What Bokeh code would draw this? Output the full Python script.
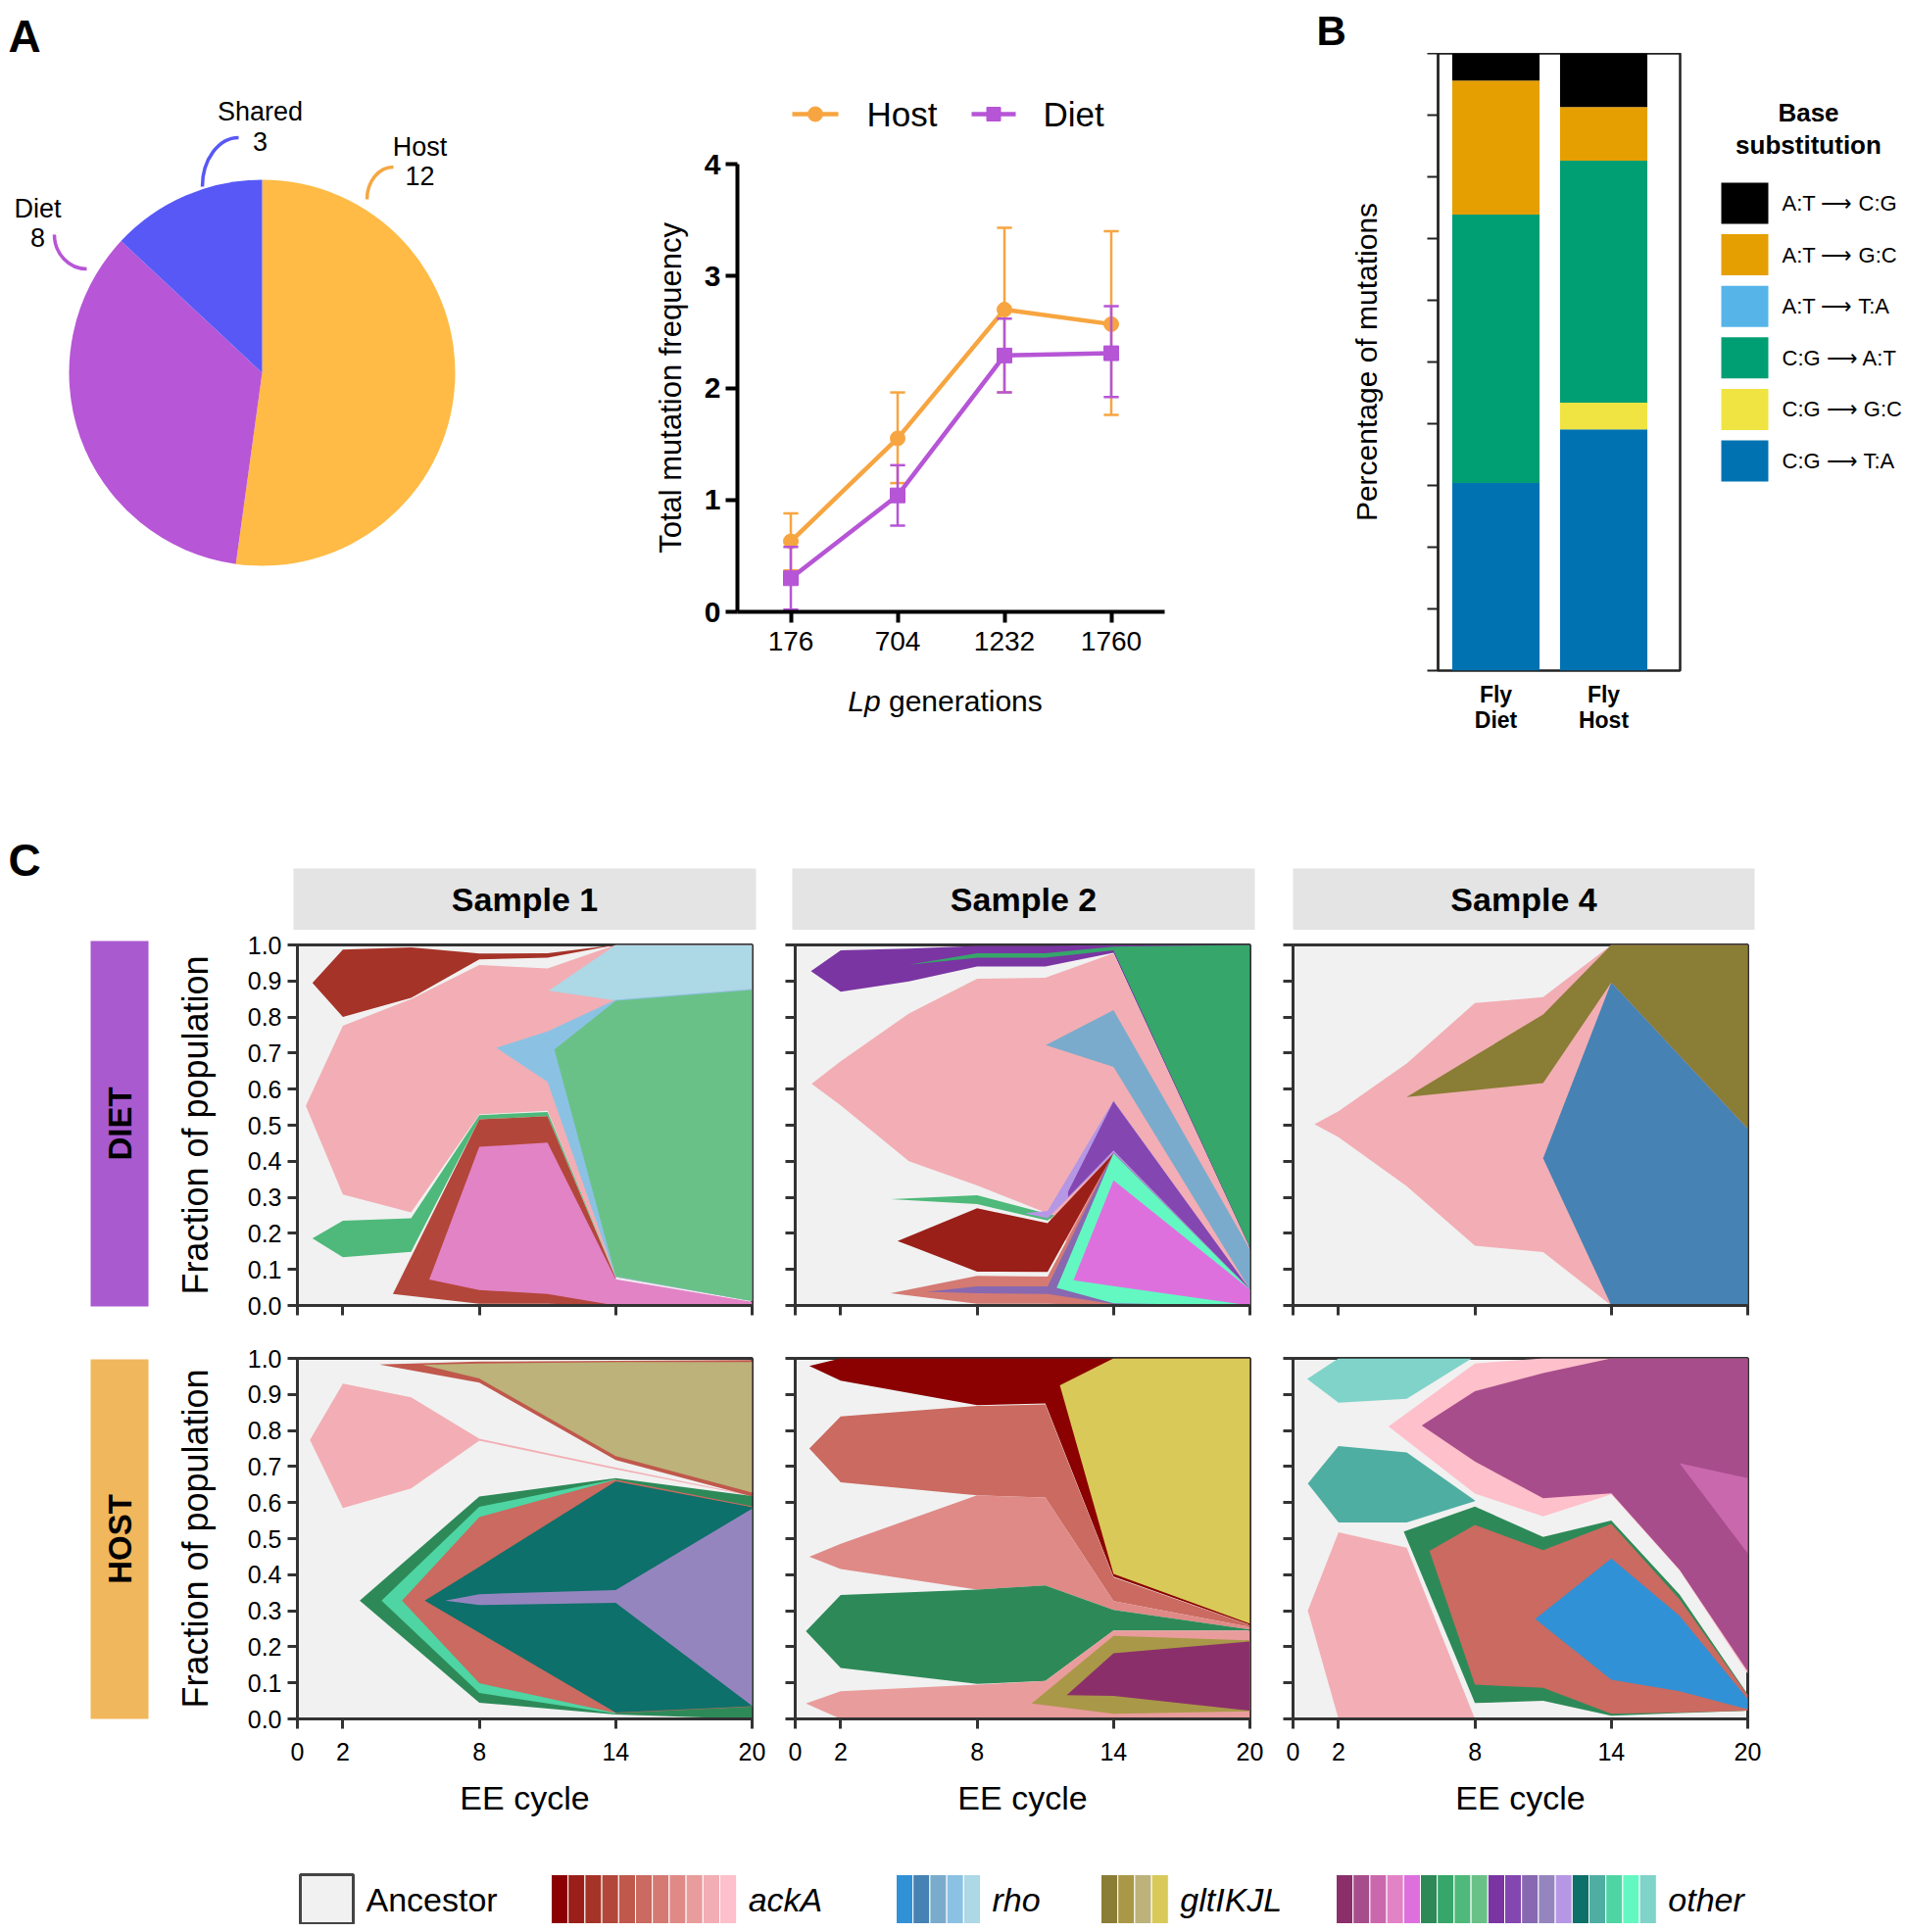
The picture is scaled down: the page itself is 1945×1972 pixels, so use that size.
import math
from bokeh.plotting import figure
from bokeh.layouts import row, column
from bokeh.models import Range1d, FixedTicker, NumeralTickFormatter, Spacer, ColumnDataSource
from bokeh.core.properties import value
from bokeh.embed import file_html
from bokeh.resources import INLINE

FONT = "Liberation Sans"

# ---------------- Panel A: pie ----------------
PIE_LABELS = ["Host", "Diet", "Shared"]
PIE_COUNTS = [12, 8, 3]

# ---------------- Panel A: line chart ----------------
GENERATIONS = ["176", "704", "1232", "1760"]
HOST_MEAN = [0.63, 1.55, 2.70, 2.57]
HOST_LOW = [0.37, 1.15, 1.96, 1.76]
HOST_HIGH = [0.88, 1.96, 3.43, 3.40]
DIET_MEAN = [0.30, 1.04, 2.29, 2.31]
DIET_LOW = [0.02, 0.77, 1.96, 1.92]
DIET_HIGH = [0.58, 1.31, 2.62, 2.73]
FREQ_TICKS = [0, 1, 2, 3, 4]

# ---------------- Panel B: stacked bars ----------------
BAR_GROUPS = ["Fly\nDiet", "Fly\nHost"]
SUBST = ["C:G \u27f6 T:A", "C:G \u27f6 G:C", "C:G \u27f6 A:T",
         "A:T \u27f6 T:A", "A:T \u27f6 G:C", "A:T \u27f6 C:G"]
DIET_PCT = [30.4, 0.0, 43.5, 0.0, 21.7, 4.4]
HOST_PCT = [39.1, 4.3, 39.2, 0.0, 8.7, 8.7]
PCT_TICKS = [0, 10, 20, 30, 40, 50, 60, 70, 80, 90, 100]

# ---------------- Panel C: Muller plots (EE cycle, upper, lower) ----------------
CYCLE_TICKS = [0, 2, 8, 14, 20]
FRACTION_TICKS = [0.0, 0.1, 0.2, 0.3, 0.4, 0.5, 0.6, 0.7, 0.8, 0.9, 1.0]
STRIP_LABELS = ["Sample 1", "Sample 2", "Sample 4"]
ROW_LABELS = ["DIET", "HOST"]

# Diet, sample 1
d1_top_red = ([0.66, 2, 5, 8, 11, 14], [0.895, 0.987, 0.993, 0.976, 0.977, 1.0], [0.895, 0.80, 0.853, 0.96, 0.965, 1.0])
d1_pink = ([0.37, 2, 5, 8, 11, 14, 20], [0.554, 0.776, 0.85, 0.944, 0.935, 1.0, 1.0], [0.554, 0.308, 0.258, 0.53, 0.54, 0.078, 0.012])
d1_green = ([0.66, 2, 5, 8, 11, 14], [0.186, 0.235, 0.242, 0.528, 0.537, 0.08], [0.186, 0.134, 0.149, 0.516, 0.525, 0.08])
d1_red = ([4.2, 8, 11, 14], [0.032, 0.516, 0.525, 0.077], [0.032, 0.005, 0.005, 0.0])
d1_magenta = ([5.8, 8, 11, 14, 20], [0.072, 0.44, 0.452, 0.073, 0.01], [0.072, 0.043, 0.032, 0.0, 0.0])
d1_lightblue = ([11.05, 14, 20], [0.873, 1.0, 1.0], [0.873, 0.846, 0.878])
d1_blue = ([8.75, 11, 14, 20], [0.715, 0.76, 0.848, 0.878], [0.715, 0.62, 0.079, 0.012])
d1_mint = ([11.3, 14, 20], [0.71, 0.845, 0.875], [0.71, 0.081, 0.012])

# Diet, sample 2
d2_purple = ([0.69, 2, 5, 8, 11, 14, 20], [0.927, 0.985, 0.99, 0.997, 0.997, 1.0, 1.0], [0.927, 0.87, 0.899, 0.94, 0.94, 0.978, 0.158])
d2_green = ([5, 8, 11, 14, 20], [0.945, 0.977, 0.977, 0.995, 1.0], [0.945, 0.965, 0.965, 0.985, 0.161])
d2_pink = ([0.72, 2, 5, 8, 11, 14, 20], [0.615, 0.677, 0.81, 0.906, 0.909, 0.977, 0.158], [0.615, 0.555, 0.40, 0.333, 0.258, 0.0, 0.0])
d2_blue = ([11.02, 14, 20], [0.722, 0.819, 0.155], [0.722, 0.662, 0.044])
d2_gthin = ([4.2, 8, 11.1, 11.4], [0.295, 0.306, 0.254, 0.25], [0.295, 0.281, 0.236, 0.25])
d2_lavender = ([10.16, 11.1, 14, 20], [0.257, 0.262, 0.568, 0.044], [0.255, 0.242, 0.422, 0.044])
d2_salmon = ([4.2, 8, 11.1, 14, 20], [0.034, 0.082, 0.08, 0.424, 0.044], [0.034, 0.005, 0.005, 0.0, 0.0])
d2_pband = ([5.8, 8, 11.1, 14, 20], [0.038, 0.053, 0.053, 0.424, 0.044], [0.038, 0.034, 0.032, 0.004, 0.0])
d2_red = ([4.5, 8, 11.1, 14], [0.179, 0.27, 0.228, 0.422], [0.179, 0.094, 0.093, 0.422])
d2_dpurple = ([12.0, 14, 20], [0.315, 0.566, 0.044], [0.30, 0.43, 0.044])
d2_mint = ([11.5, 14, 20], [0.049, 0.422, 0.044], [0.049, 0.006, 0.0])
d2_magenta = ([12.24, 14, 20], [0.07, 0.347, 0.044], [0.07, 0.054, 0.0])

# Diet, sample 4
d4_pink = ([0.94, 2, 5, 8, 11, 14, 20], [0.503, 0.539, 0.671, 0.839, 0.855, 1.0, 1.0], [0.503, 0.467, 0.331, 0.166, 0.148, 0.0, 0.0])
d4_olive = ([5, 8, 11, 14, 20], [0.578, 0.693, 0.807, 1.0, 1.0], [0.578, 0.597, 0.617, 0.896, 0.49])
d4_blue = ([11, 14, 20], [0.408, 0.896, 0.49], [0.408, 0.0, 0.0])

# Host, sample 1
h1_pink = ([0.55, 2, 5, 8, 14, 20], [0.774, 0.93, 0.892, 0.777, 0.697, 0.62], [0.774, 0.585, 0.639, 0.772, 0.692, 0.618])
h1_red = ([3.6, 8, 14, 20], [0.983, 0.991, 0.993, 0.995], [0.983, 0.933, 0.718, 0.617])
h1_olive = ([5.5, 8, 14, 20], [0.982, 0.986, 0.99, 0.99], [0.982, 0.944, 0.729, 0.628])
h1_dgreen = ([2.74, 8, 14, 20], [0.328, 0.617, 0.668, 0.618], [0.328, 0.045, 0.012, 0.0])
h1_lgreen = ([3.7, 8, 14], [0.328, 0.588, 0.665], [0.328, 0.072, 0.014])
h1_salmon = ([4.6, 8, 14, 20], [0.328, 0.56, 0.664, 0.59], [0.328, 0.099, 0.016, 0.034])
h1_teal = ([5.6, 8, 14, 20], [0.328, 0.422, 0.659, 0.587], [0.328, 0.239, 0.018, 0.035])
h1_lilac = ([6.5, 8, 14, 20], [0.328, 0.346, 0.357, 0.583], [0.328, 0.316, 0.322, 0.036])

# Host, sample 2
h2_dred = ([0.62, 2, 8, 11, 14, 20], [0.979, 1.0, 1.0, 1.0, 1.0, 1.0], [0.979, 0.938, 0.87, 0.875, 0.395, 0.261])
h2_yellow = ([11.64, 14, 20], [0.925, 1.0, 1.0], [0.925, 0.402, 0.264])
h2_salmon = ([0.62, 2, 8, 11, 14, 20], [0.75, 0.839, 0.868, 0.872, 0.393, 0.26], [0.75, 0.656, 0.62, 0.614, 0.327, 0.255])
h2_lsalmon = ([0.62, 2, 8, 11, 14, 20], [0.45, 0.486, 0.62, 0.614, 0.327, 0.255], [0.45, 0.416, 0.359, 0.37, 0.302, 0.248])
h2_green = ([0.47, 2, 8, 11, 14, 20], [0.243, 0.344, 0.359, 0.37, 0.302, 0.248], [0.243, 0.141, 0.097, 0.105, 0.245, 0.245])
h2_bpink = ([0.47, 2, 8, 11, 14, 20], [0.043, 0.077, 0.095, 0.105, 0.245, 0.245], [0.043, 0.0, 0.0, 0.0, 0.0, 0.0])
h2_olive = ([10.4, 14, 20], [0.043, 0.23, 0.218], [0.043, 0.014, 0.021])
h2_purple = ([11.94, 14, 20], [0.066, 0.182, 0.215], [0.066, 0.064, 0.023])

# Host, sample 4
h4_tealtop = ([0.62, 2, 5, 7.86], [0.943, 1.0, 1.0, 1.0], [0.943, 0.877, 0.888, 1.0])
h4_teal = ([0.65, 2, 5, 8], [0.653, 0.757, 0.739, 0.606], [0.653, 0.545, 0.545, 0.604])
h4_pink = ([0.65, 2, 5, 8], [0.30, 0.518, 0.475, 0.0], [0.30, 0.0, 0.0, 0.0])
h4_lpink = ([4.2, 8, 11, 14, 17, 20], [0.811, 0.986, 1.0, 1.0, 1.0, 1.0], [0.811, 0.625, 0.562, 0.623, 0.412, 0.125])
h4_magenta = ([5.66, 8, 11, 14, 17, 20], [0.814, 0.909, 0.959, 1.0, 1.0, 1.0], [0.814, 0.714, 0.612, 0.626, 0.414, 0.132])
h4_orchid = ([17, 20], [0.709, 0.668], [0.709, 0.459])
h4_dgreen = ([4.87, 8, 11, 14, 17, 20], [0.52, 0.589, 0.505, 0.55, 0.345, 0.068], [0.52, 0.044, 0.05, 0.009, 0.016, 0.023])
h4_salmon = ([6.0, 8, 11, 14, 17, 20], [0.466, 0.538, 0.468, 0.541, 0.332, 0.066], [0.466, 0.095, 0.086, 0.014, 0.018, 0.023])
h4_blue = ([10.65, 14, 17, 20], [0.277, 0.445, 0.286, 0.055], [0.277, 0.109, 0.077, 0.027])

LEGEND_GROUPS = ["ackA", "rho", "gltIKJL", "other"]

# ---------------- styles ----------------
PIE_COLORS = ["#FFBB45", "#B756D6", "#5858F6"]
LEADER_COLORS = ["#F5A742", "#B756D6", "#5858F6"]
HOST_C = "#F7A540"
DIET_C = "#B655D6"
SUBST_COLORS = ["#0072B2", "#F0E442", "#009E73", "#56B4E9", "#E69F00", "#000000"]
ANCESTOR_C = "#F1F1F1"
ACKA = ["#8B0000", "#9A1F18", "#A63328", "#B3463A", "#C0584C", "#CA6A60",
        "#D47A73", "#DF8A87", "#E99C9C", "#F2AEB4", "#FEC0CB"]
RHO = ["#3191D6", "#4682B4", "#7BABCC", "#8BC2E4", "#ADD8E6"]
GLT = ["#8A7D35", "#A99848", "#BCB27A", "#D9C959"]
OTHER = ["#8B2F6B", "#A84D8C", "#CA68AE", "#E283C6", "#DE70DE", "#2D8A58", "#36A66A",
         "#4EB97A", "#6AC187", "#7A35A3", "#8446B0", "#8868B0", "#9585BF", "#B697E6",
         "#0D706A", "#4FAEA2", "#4ED5A3", "#63F8C2", "#80D3C8"]

D1 = [(d1_top_red, ACKA[2]), (d1_pink, ACKA[9]), (d1_green, OTHER[7]), (d1_red, ACKA[3]),
      (d1_magenta, OTHER[3]), (d1_lightblue, RHO[4]), (d1_blue, RHO[3]), (d1_mint, OTHER[8])]
D2 = [(d2_purple, OTHER[9]), (d2_green, OTHER[6]), (d2_pink, ACKA[9]), (d2_blue, RHO[2]),
      (d2_gthin, OTHER[7]), (d2_lavender, OTHER[13]), (d2_salmon, ACKA[6]), (d2_pband, OTHER[11]),
      (d2_red, ACKA[1]), (d2_dpurple, OTHER[10]), (d2_mint, OTHER[17]), (d2_magenta, OTHER[4])]
D4 = [(d4_pink, ACKA[9]), (d4_olive, GLT[0]), (d4_blue, RHO[1])]
H1 = [(h1_pink, ACKA[9]), (h1_red, ACKA[4]), (h1_olive, GLT[2]), (h1_dgreen, OTHER[5]),
      (h1_lgreen, OTHER[16]), (h1_salmon, ACKA[5]), (h1_teal, OTHER[14]), (h1_lilac, OTHER[12])]
H2 = [(h2_dred, ACKA[0]), (h2_yellow, GLT[3]), (h2_salmon, ACKA[5]), (h2_lsalmon, ACKA[7]),
      (h2_green, OTHER[5]), (h2_bpink, ACKA[8]), (h2_olive, GLT[1]), (h2_purple, OTHER[0])]
H4 = [(h4_tealtop, OTHER[18]), (h4_teal, OTHER[15]), (h4_pink, ACKA[9]), (h4_lpink, ACKA[10]),
      (h4_magenta, OTHER[1]), (h4_orchid, OTHER[2]), (h4_dgreen, OTHER[5]), (h4_salmon, ACKA[5]),
      (h4_blue, RHO[0])]


def canvas(w, h):
    p = figure(frame_width=w, frame_height=h, x_range=Range1d(0, w), y_range=Range1d(0, h),
               toolbar_location=None, output_backend="svg", title=None,
               x_axis_location=None, y_axis_location=None, min_border=0, frame_align=False)
    p.outline_line_color = None
    p.grid.visible = False
    return p


def txt(p, x, y, s, size, align="center", style="normal", angle=0.0, color="black"):
    p.text(x=[x], y=[y], text=[s], text_font=value(FONT), text_font_size=f"{size}px",
           text_align=align, text_baseline="middle", text_font_style=style,
           angle=angle, text_color=color)


def style_axis(ax, color="black", width=3, tick_out=10, label_size=25, bold=False, standoff=5):
    ax.axis_line_color = color
    ax.axis_line_width = width
    ax.major_tick_line_color = color
    ax.major_tick_line_width = width
    ax.major_tick_out = tick_out
    ax.major_tick_in = 0
    ax.minor_tick_line_color = None
    ax.major_label_text_font = FONT
    ax.major_label_text_font_size = f"{label_size}px"
    ax.major_label_text_font_style = "bold" if bold else "normal"
    ax.major_label_text_color = "black"
    ax.major_label_standoff = standoff
    ax.axis_label_text_font = FONT
    ax.axis_label_text_font_style = "normal"
    ax.axis_label_text_color = "black"


def hide_labels(ax, ticks):
    ax.major_label_text_font_size = "10px"
    ax.major_label_standoff = 0
    ax.major_label_overrides = {t: "" for t in ticks}


# ================= TOP BAND =================
# ---- pie ----
pie = canvas(552, 842)
total = sum(PIE_COUNTS)
starts, ends, cum = [], [], 0
for c in PIE_COUNTS:
    starts.append(math.pi / 2 - 2 * math.pi * cum / total)
    cum += c
    ends.append(math.pi / 2 - 2 * math.pi * cum / total)
pie.wedge(x=259, y=470, radius=197, start_angle=starts, end_angle=ends, direction="clock",
          fill_color=PIE_COLORS, line_color=None)
label_pos = [(420, 701, 671), (30, 638, 608), (257, 737, 706)]
for (lx, ly1, ly2), name, cnt in zip(label_pos, PIE_LABELS, PIE_COUNTS):
    txt(pie, lx, ly1, name, 27)
    txt(pie, lx, ly2, str(cnt), 27)
pie.bezier(x0=[393, 47, 235], y0=[680, 611, 710], x1=[366, 80, 198], y1=[647, 576, 660],
           cx0=[378, 47, 214.6], cy0=[680, 591.7, 710], cx1=[366, 61.8, 198], cy1=[665.2, 576, 687.6],
           line_color=LEADER_COLORS, line_width=3.5)
txt(pie, 0, 814, "A", 46, align="left", style="bold")

# ---- line chart legend ----
leg = canvas(770, 132)
leg.line([248, 295], [24, 24], line_color=HOST_C, line_width=4.5)
leg.scatter([271.5], [24], marker="circle", size=15, fill_color=HOST_C, line_color=HOST_C)
txt(leg, 324, 24, "Host", 35, align="left")
leg.line([431, 476], [24, 24], line_color=DIET_C, line_width=4.5)
leg.scatter([453.5], [24], marker="square", size=14, fill_color=DIET_C, line_color=DIET_C)
txt(leg, 504, 24, "Diet", 35, align="left")

# ---- line chart ----
lp = figure(frame_width=436, frame_height=457, x_range=Range1d(-0.5, 3.5), y_range=Range1d(0, 4),
            min_border_left=192, min_border_right=142, min_border_top=27, min_border_bottom=66,
            toolbar_location=None, output_backend="svg", title=None, frame_align=False)
lp.outline_line_color = None
lp.grid.visible = False
xs = list(range(len(GENERATIONS)))


def draw_series(p, mean, lo, hi, color, marker, size):
    p.segment(x0=xs, y0=lo, x1=xs, y1=hi, line_color=color, line_width=2.5)
    p.segment(x0=[x - 0.07 for x in xs], y0=hi, x1=[x + 0.07 for x in xs], y1=hi, line_color=color, line_width=2.5)
    p.segment(x0=[x - 0.07 for x in xs], y0=lo, x1=[x + 0.07 for x in xs], y1=lo, line_color=color, line_width=2.5)
    p.line(xs, mean, line_color=color, line_width=4.5)
    p.scatter(xs, mean, marker=marker, size=size, fill_color=color, line_color=color)


draw_series(lp, HOST_MEAN, HOST_LOW, HOST_HIGH, HOST_C, "circle", 15)
draw_series(lp, DIET_MEAN, DIET_LOW, DIET_HIGH, DIET_C, "square", 15)
style_axis(lp.xaxis[0], width=4, tick_out=11, label_size=28, standoff=9)
style_axis(lp.yaxis[0], width=4, tick_out=12, label_size=30, bold=True, standoff=5)
lp.xaxis.ticker = FixedTicker(ticks=xs)
lp.xaxis.major_label_overrides = {x: g for x, g in zip(xs, GENERATIONS)}
lp.yaxis.ticker = FixedTicker(ticks=FREQ_TICKS)
lp.yaxis.axis_label = "Total mutation frequency"
lp.yaxis.axis_label_text_font_size = "31px"
lp.yaxis.axis_label_standoff = 14

xl = canvas(770, 160)
txt(xl, 304.8, 135, "Lp", 30, align="left", style="italic")
txt(xl, 346.5, 135, "generations", 30, align="left")

line_col = column(leg, lp, xl)

# ---- stacked bars ----
bcan = canvas(410, 46)
txt(bcan, 13, 23, "B", 42, align="left", style="bold")

bars = figure(frame_width=247, frame_height=630, x_range=Range1d(0.4636, 2.709), y_range=Range1d(0, 100),
              min_border_left=137, min_border_right=26, min_border_top=0, min_border_bottom=166,
              toolbar_location=None, output_backend="svg", title=None, frame_align=False)
bars.grid.visible = False
bars.outline_line_color = "#222222"
bars.outline_line_width = 2.5
src = {"x": [1, 2]}
for s, dv, hv in zip(SUBST, DIET_PCT, HOST_PCT):
    src[s] = [dv, hv]
bars.vbar_stack(SUBST, x="x", width=0.81, fill_color=SUBST_COLORS, line_color=None,
                source=ColumnDataSource(src))
style_axis(bars.yaxis[0], color="#222222", width=2, tick_out=11)
hide_labels(bars.yaxis[0], PCT_TICKS)
bars.yaxis.ticker = FixedTicker(ticks=PCT_TICKS)
bars.yaxis.axis_label = "Percentage of mutations"
bars.yaxis.axis_label_text_font_size = "30px"
bars.yaxis.axis_label_standoff = 46
style_axis(bars.xaxis[0], label_size=23, bold=True, standoff=1)
bars.xaxis.major_label_text_line_height = 1.0
bars.xaxis.axis_line_color = None
bars.xaxis.major_tick_line_color = None
bars.xaxis.ticker = FixedTicker(ticks=[1, 2])
bars.xaxis.major_label_overrides = {1: BAR_GROUPS[0], 2: BAR_GROUPS[1]}
bar_col = column(bcan, bars)

bleg = canvas(204, 842)
txt(bleg, 105, 736, "Base", 26, style="bold")
txt(bleg, 105, 703, "substitution", 26, style="bold")
for i, (s, c) in enumerate(zip(SUBST[::-1], SUBST_COLORS[::-1])):
    yy = 643 - 52.6 * i
    bleg.quad(left=[16], right=[64], bottom=[yy - 21], top=[yy + 21], fill_color=c, line_color=None)
    txt(bleg, 78, yy, s, 22, align="left")

top_band = row(pie, line_col, bar_col, bleg)

# ================= BOTTOM BAND =================
strip = canvas(1929, 99)
txt(strip, 0, 72, "C", 46, align="left", style="bold")
for (l, r), lab in zip([(291, 763), (800, 1272), (1311, 1782)], STRIP_LABELS):
    strip.quad(left=[l], right=[r], bottom=[0], top=[63], fill_color="#E4E4E4", line_color=None)
    txt(strip, (l + r) / 2, 31.5, lab, 34, style="bold")


def muller(clones, left, right, top, bottom, ylabels, xlabels):
    p = figure(frame_width=464, frame_height=368, x_range=Range1d(0, 20), y_range=Range1d(0, 1),
               min_border_left=left, min_border_right=right, min_border_top=top, min_border_bottom=bottom,
               toolbar_location=None, output_backend="svg", title=None, frame_align=False)
    p.background_fill_color = ANCESTOR_C
    p.outline_line_color = "#333333"
    p.outline_line_width = 3
    p.grid.visible = False
    for (t, hi, lo), c in clones:
        p.varea(x=t, y1=lo, y2=hi, fill_color=c)
    style_axis(p.xaxis[0], color="#333333", width=3, tick_out=10, label_size=25, standoff=14)
    style_axis(p.yaxis[0], color="#333333", width=3, tick_out=10, label_size=25, standoff=6)
    p.xaxis.ticker = FixedTicker(ticks=CYCLE_TICKS)
    p.yaxis.ticker = FixedTicker(ticks=FRACTION_TICKS)
    p.yaxis.formatter = NumeralTickFormatter(format="0.0")
    if not xlabels:
        hide_labels(p.xaxis[0], CYCLE_TICKS)
    if not ylabels:
        hide_labels(p.yaxis[0], FRACTION_TICKS)
    if ylabels:
        p.yaxis.axis_label = "Fraction of population"
        p.yaxis.axis_label_text_font_size = "36px"
        p.yaxis.axis_label_standoff = 30
    if xlabels:
        p.xaxis.axis_label = "EE cycle"
        p.xaxis.axis_label_text_font_size = "34px"
        p.xaxis.axis_label_standoff = 16
    return p


dleft = canvas(152, 411)
dleft.quad(left=[84], right=[143], bottom=[27], top=[400], fill_color="#A95ACF", line_color=None)
txt(dleft, 113.5, 213.5, ROW_LABELS[0], 33, style="bold", angle=math.pi / 2)
diet_row = row(dleft,
               muller(D1, 143, 23, 15, 28, True, False),
               muller(D2, 21, 25, 15, 28, False, False),
               muller(D4, 19, 17, 15, 28, False, False),
               Spacer(width=137, height=411))

hleft = canvas(152, 515)
hleft.quad(left=[84], right=[143], bottom=[121], top=[488], fill_color="#F1B75C", line_color=None)
txt(hleft, 113.5, 304.5, ROW_LABELS[1], 33, style="bold", angle=math.pi / 2)
host_row = row(hleft,
               muller(H1, 143, 23, 26, 121, True, True),
               muller(H2, 21, 25, 26, 121, False, True),
               muller(H4, 19, 17, 26, 121, False, True),
               Spacer(width=137, height=515))

# ---- bottom legend ----
lg = canvas(1929, 89)
lg.quad(left=[298], right=[352], bottom=[1], top=[51], fill_color=ANCESTOR_C, line_color="#444444", line_width=3)
txt(lg, 365, 26, "Ancestor", 34, align="left")
SW = 17.2
for pal, x0, name in zip([ACKA, RHO, GLT, OTHER], [554, 906, 1115, 1355], LEGEND_GROUPS):
    lefts = [x0 + i * SW for i in range(len(pal))]
    lg.quad(left=lefts, right=[l + SW for l in lefts], bottom=[1] * len(pal), top=[51] * len(pal),
            fill_color=pal, line_color="white", line_width=1)
    txt(lg, x0 + SW * len(pal) + 12, 26, name, 34, align="left", style="italic")

content = column(top_band, strip, diet_row, host_row, lg)
layout = column(Spacer(width=1944, height=8), row(Spacer(width=8, height=1956), content))

open("out.html", "w").write(file_html(layout, INLINE))
